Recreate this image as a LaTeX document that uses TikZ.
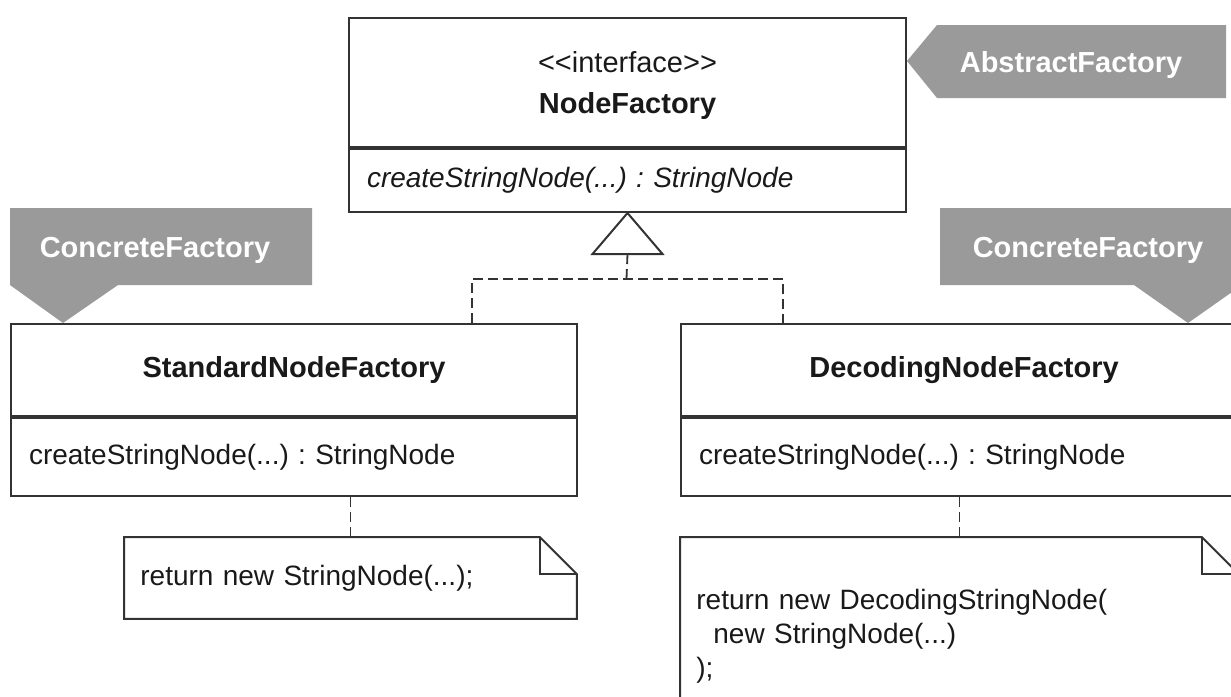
\documentclass[tikz,border=0pt]{standalone}
\usepackage{fontspec}
\setmainfont{Liberation Sans}
\usetikzlibrary{calc}

\definecolor{tagfill}{HTML}{9A9A9A}
\definecolor{linegray}{HTML}{333333}
\frenchspacing

\begin{document}
\begin{tikzpicture}[x=0.5pt, y=-0.5pt,
        every node/.style={font=\fontsize{14.5}{17}\selectfont, text=black!90},
        classbox/.style={draw=linegray, line width=1pt, inner sep=0pt},
        opsbox/.style={draw=linegray, line width=1pt, inner xsep=9pt, inner ysep=0pt, align=left,
                       font=\fontsize{14}{17}\selectfont},
        notebox/.style={inner xsep=8pt, align=left, font=\fontsize{14}{17}\selectfont},
        noteline/.style={draw=linegray, line width=1pt},
        dep/.style={draw=linegray, line width=0.9pt, dash pattern=on 5pt off 2.5pt},
        tagtext/.style={anchor=base, text=white, font=\fontsize{14.5}{17}\selectfont\bfseries}]
        \useasboundingbox (0,0) rectangle (1231,696);
        \clip (0,0) rectangle (1231,696);

        % interface
        \node[classbox, anchor=north west, minimum width=278.5pt, minimum height=64.5pt, align=center,
              text depth=0pt, font=\fontsize{14.5}{20.5}\selectfont] (nf) at (348,17)
              {<\kern0pt<interface>\kern0pt>\\\textbf{NodeFactory}};
        \node[opsbox, anchor=north, text width=260.5pt, minimum height=31.5pt] (nfops) at (nf.south)
              {\textit{createStringNode(...) : StringNode}};

        % concrete factories
        \node[classbox, anchor=north west, minimum width=283pt, minimum height=46pt] (std) at (10,323)
              {\textbf{StandardNodeFactory}};
        \node[opsbox, anchor=north, text width=265pt, minimum height=39pt] (stdops) at (std.south)
              {createStringNode(...) : StringNode};
        \node[classbox, anchor=north west, minimum width=283pt, minimum height=46pt] (dec) at (680,323)
              {\textbf{DecodingNodeFactory}};
        \node[opsbox, anchor=north, text width=265pt, minimum height=39pt] (decops) at (dec.south)
              {createStringNode(...) : StringNode};

        % notes
        \node[notebox, anchor=north west, minimum width=226pt, minimum height=40.5pt, text width=210pt] (stdnote)
              at (124,537) {return new StringNode(...);};
        \node[notebox, anchor=north west, minimum width=279pt, text width=263pt, inner ysep=26pt] (decnote)
              at (680,537) {return new DecodingStringNode(\\\hspace*{8.5pt}new StringNode(...)\\);};
        \foreach \n in {stdnote, decnote} {
            \draw[noteline] (\n.north west) -- ([xshift=-18.5pt]\n.north east) -- ([yshift=-18.5pt]\n.north east)
                -- (\n.south east) -- (\n.south west) -- cycle;
            \draw[noteline] ([xshift=-18.5pt]\n.north east) |- ([yshift=-18.5pt]\n.north east);
        }
        \draw[dep] (stdnote.north) -- (stdnote.north |- stdops.south);
        \draw[dep] (decnote.north) -- (decnote.north |- decops.south);

        % realization
        \coordinate (stdtop) at (472,323);
        \coordinate (dectop) at (783,323);
        \coordinate (fork) at (626.5,279);
        \coordinate (tribase) at ([yshift=-20.5pt]nfops.south);
        \draw[dep] (stdtop) |- (fork) -| (dectop);
        \draw[dep] (fork) -- (tribase);
        \draw[noteline, fill=white] (nfops.south) -- ++(-35,41) -- ++(70,0) -- cycle;

        % pattern tags
        \fill[tagfill] (nf.east |- 0,61) -- (937,25) -- (1226,25) -- (1226,98) -- (937,98) -- cycle;
        \node[tagtext] (abstag) at (1071,72) {AbstractFactory};
        \fill[tagfill] (10,208) -- (312,208) -- (312,285) -- (118,285) -- (std.north west -| 63,0)
            -- (10,285) -- cycle;
        \node[tagtext] (stdtag) at (155,257) {ConcreteFactory};
        \fill[tagfill] (940,208) -- (1242,208) -- (1242,285) -- (dec.north west -| 1188,0)
            -- (1134,285) -- (940,285) -- cycle;
        \node[tagtext] (dectag) at (1088,257) {ConcreteFactory};
    \end{tikzpicture}
\end{document}
